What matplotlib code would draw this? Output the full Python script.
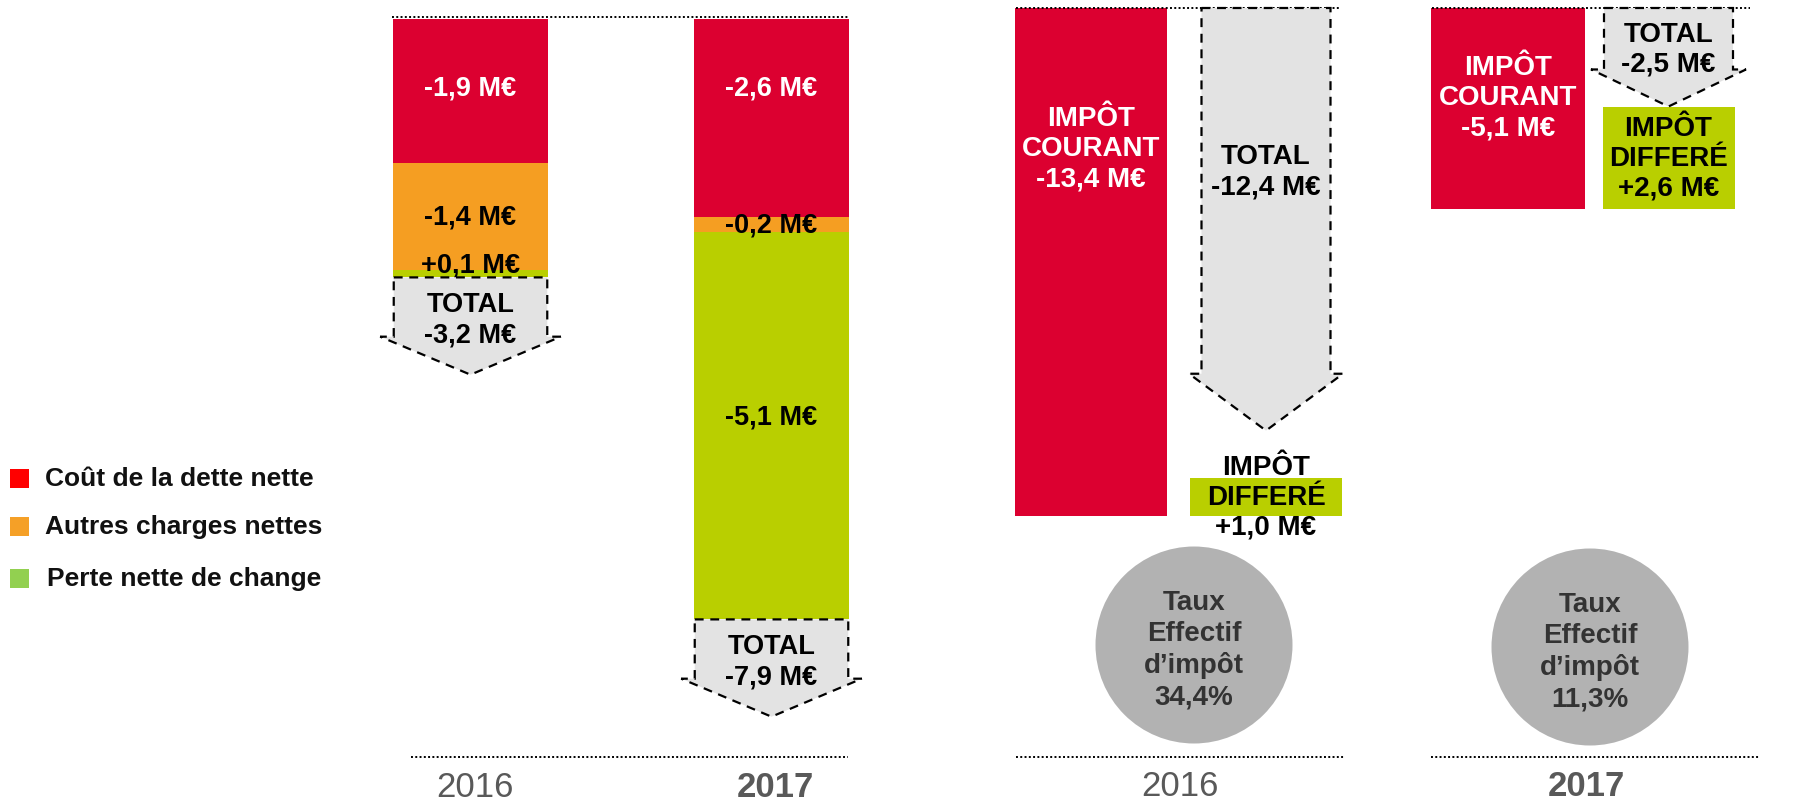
import matplotlib.pyplot as plt
import numpy as np
from matplotlib.patches import Polygon, Ellipse, Rectangle

plt.rcParams['font.family'] = ['Liberation Sans', 'DejaVu Sans']

## DATA - résultat financier (M€)
years = ['2016', '2017']
cout_dette = [-1.9, -2.6]
autres_charges = [-1.4, -0.2]
perte_change = [0.1, -5.1]
total_financier = [-3.2, -7.9]
legend_labels = ['Coût de la dette nette', 'Autres charges nettes', 'Perte nette de change']

## DATA - impôt (M€)
impot_courant = [-13.4, -5.1]
impot_differe = [1.0, 2.6]
impot_total = [-12.4, -2.5]
taux_effectif = [34.4, 11.3]

RED = '#dc0030'
ORANGE = '#f59e22'
GREEN = '#b9cf00'
ARROW_GREY = '#e3e3e3'
CIRCLE_GREY = '#b2b2b2'
YEAR_GREY = '#595959'
LEG_COLORS = ['#ff0000', '#f5a027', '#92d050']

W, H = 1796, 803
fig = plt.figure(figsize=(W / 100, H / 100), dpi=100)


def px_axes(left, top, right, bottom):
    ax = fig.add_axes([left / W, 1 - bottom / H, (right - left) / W, (bottom - top) / H])
    ax.axis('off')
    return ax


def fmt(v):
    return f'{v:+.1f} M€'.replace('.', ',')


def dotted(ax, x0, x1, y):
    ax.plot([x0, x1], [y, y], color='black', lw=1.4, ls=(0, (1, 1.2)), clip_on=False)


def down_arrow(ax, x, top, body, head, half, wing):
    pts = [(x - half, top), (x + half, top), (x + half, top - body), (x + wing, top - body),
           (x, top - body - head), (x - wing, top - body), (x - half, top - body)]
    ax.add_patch(Polygon(pts, closed=True, facecolor=ARROW_GREY, edgecolor='black',
                         lw=1.6, ls=(0, (4, 3)), zorder=3, clip_on=False))


## LEFT CHART - stacked bars going down from zero

ax1 = px_axes(380, 20, 870, 758)
unit = 301
ax1.set_xlim(-(470.5 - 380) / unit, (870 - 470.5) / unit)
ymin = -(758 - 20) / 76
ax1.set_ylim(ymin, 0)
xs = np.arange(len(years))
bottom = np.zeros(len(years))
series = [(cout_dette, RED, 'white'), (autres_charges, ORANGE, 'black'), (perte_change, GREEN, 'black')]
for k, (vals, col, tcol) in enumerate(series):
    h = np.abs(vals)
    ax1.bar(xs, -h, bottom=bottom, width=155 / unit, color=col, lw=0, zorder=2)
    for i, v in enumerate(vals):
        if k == 0:
            y = bottom[i] - 0.9
        elif k == 1:
            y = bottom[i] - h[i] / 2
        else:
            y = bottom[i] - h[i] / 2 + 0.12
        ax1.text(xs[i], y, fmt(v), color=tcol, ha='center', va='center', fontsize=19.5,
                 fontweight='bold', zorder=4 if k < 2 else 2.5)
    bottom = bottom - h

for i, t in enumerate(total_financier):
    down_arrow(ax1, xs[i], bottom[i], 0.78, 0.5, 0.255, 0.30)
    ax1.text(xs[i], bottom[i] - 0.55, 'TOTAL\n' + fmt(t), ha='center', va='center',
             fontsize=19.5, fontweight='bold', zorder=4, linespacing=1.25)
    ax1.annotate(years[i], (xs[i], ymin), xytext=(3, -21), textcoords='offset points',
                 ha='center', va='center', fontsize=25, color=YEAR_GREY,
                 fontweight='bold' if i == 1 else 'normal')

dotted(ax1, -0.261, 1.254, 0.03)
dotted(ax1, -0.198, 1.254, ymin)

## RIGHT CHARTS - impôt courant / total / différé

tax_layout = [
    dict(ax_px=(1005, 1350), centers=(1091, 1266), red_w=152, box_w=129, wing_w=154, green_w=152,
         scale=37.9, head=1.5, gap=1.25, lbl_courant=-3.7, lbl_total=-4.31,
         base=(1016, 1344), top=(1016, 1341), circle=(1194, 646), year_x=1180),
    dict(ax_px=(1425, 1770), centers=(1508, 1668.5), red_w=154, box_w=129, wing_w=155, green_w=132,
         scale=39.4, head=0.94, gap=0.0, lbl_courant=-2.26, lbl_total=-1.04,
         base=(1431, 1759), top=(1432, 1750), circle=(1590, 648), year_x=1586),
]

for i, lay in enumerate(tax_layout):
    l, r = lay['ax_px']
    c0, c1 = lay['centers']
    u = c1 - c0
    ax = px_axes(l, 9, r, 758)
    ax.set_xlim((l - c0) / u, (r - c0) / u)
    lo = -(758 - 9) / lay['scale']
    ax.set_ylim(lo, 0)

    ax.bar(0, impot_courant[i], width=lay['red_w'] / u, color=RED, lw=0, zorder=2)
    ax.text(0, lay['lbl_courant'], 'IMPÔT\nCOURANT\n' + fmt(impot_courant[i]), color='white',
            ha='center', va='center', fontsize=20, fontweight='bold', zorder=4)

    tip = impot_total[i] + lay['gap']
    down_arrow(ax, 1, 0, -tip - lay['head'], lay['head'], lay['box_w'] / 2 / u, lay['wing_w'] / 2 / u)
    ax.text(1, lay['lbl_total'], 'TOTAL\n' + fmt(impot_total[i]), ha='center', va='center',
            fontsize=20, fontweight='bold', zorder=4)

    ax.bar(1, impot_differe[i], bottom=impot_courant[i], width=lay['green_w'] / u,
           color=GREEN, lw=0, zorder=2)
    ax.text(1, impot_courant[i] + impot_differe[i] / 2, 'IMPÔT\nDIFFERÉ\n' + fmt(impot_differe[i]),
            ha='center', va='center', fontsize=20, fontweight='bold', zorder=4)

    dotted(ax, (lay['top'][0] - c0) / u, (lay['top'][1] - c0) / u, 0)
    dotted(ax, (lay['base'][0] - c0) / u, (lay['base'][1] - c0) / u, lo)

    cx, cy = lay['circle']
    fig.add_artist(Ellipse((cx / W, 1 - cy / H), 197 / W, 197 / H, transform=fig.transFigure,
                           facecolor=CIRCLE_GREY, edgecolor='none'))
    rate = f'{taux_effectif[i]:.1f}%'.replace('.', ',')
    fig.text(cx / W, 1 - (cy + 4) / H, 'Taux\nEffectif\nd’impôt\n' + rate, ha='center', va='center',
             fontsize=20, fontweight='bold', color='#333333', linespacing=1.25)

    fig.text(lay['year_x'] / W, 1 - 787 / H, years[i], ha='center', va='center', fontsize=25,
             color=YEAR_GREY, fontweight='bold' if i == 1 else 'normal')

## LEGEND

for k, (lab, col) in enumerate(zip(legend_labels, LEG_COLORS)):
    cy = [479, 527, 579][k]
    fig.add_artist(Rectangle((10 / W, 1 - (cy + 9.5) / H), 19 / W, 19 / H,
                             transform=fig.transFigure, color=col, lw=0))
    fig.text((45 + 2 * (k == 2)) / W, 1 - cy / H, lab, va='center', ha='left', fontsize=19,
             fontweight='bold', color='#111111')

fig.savefig('out.png', dpi=100)
